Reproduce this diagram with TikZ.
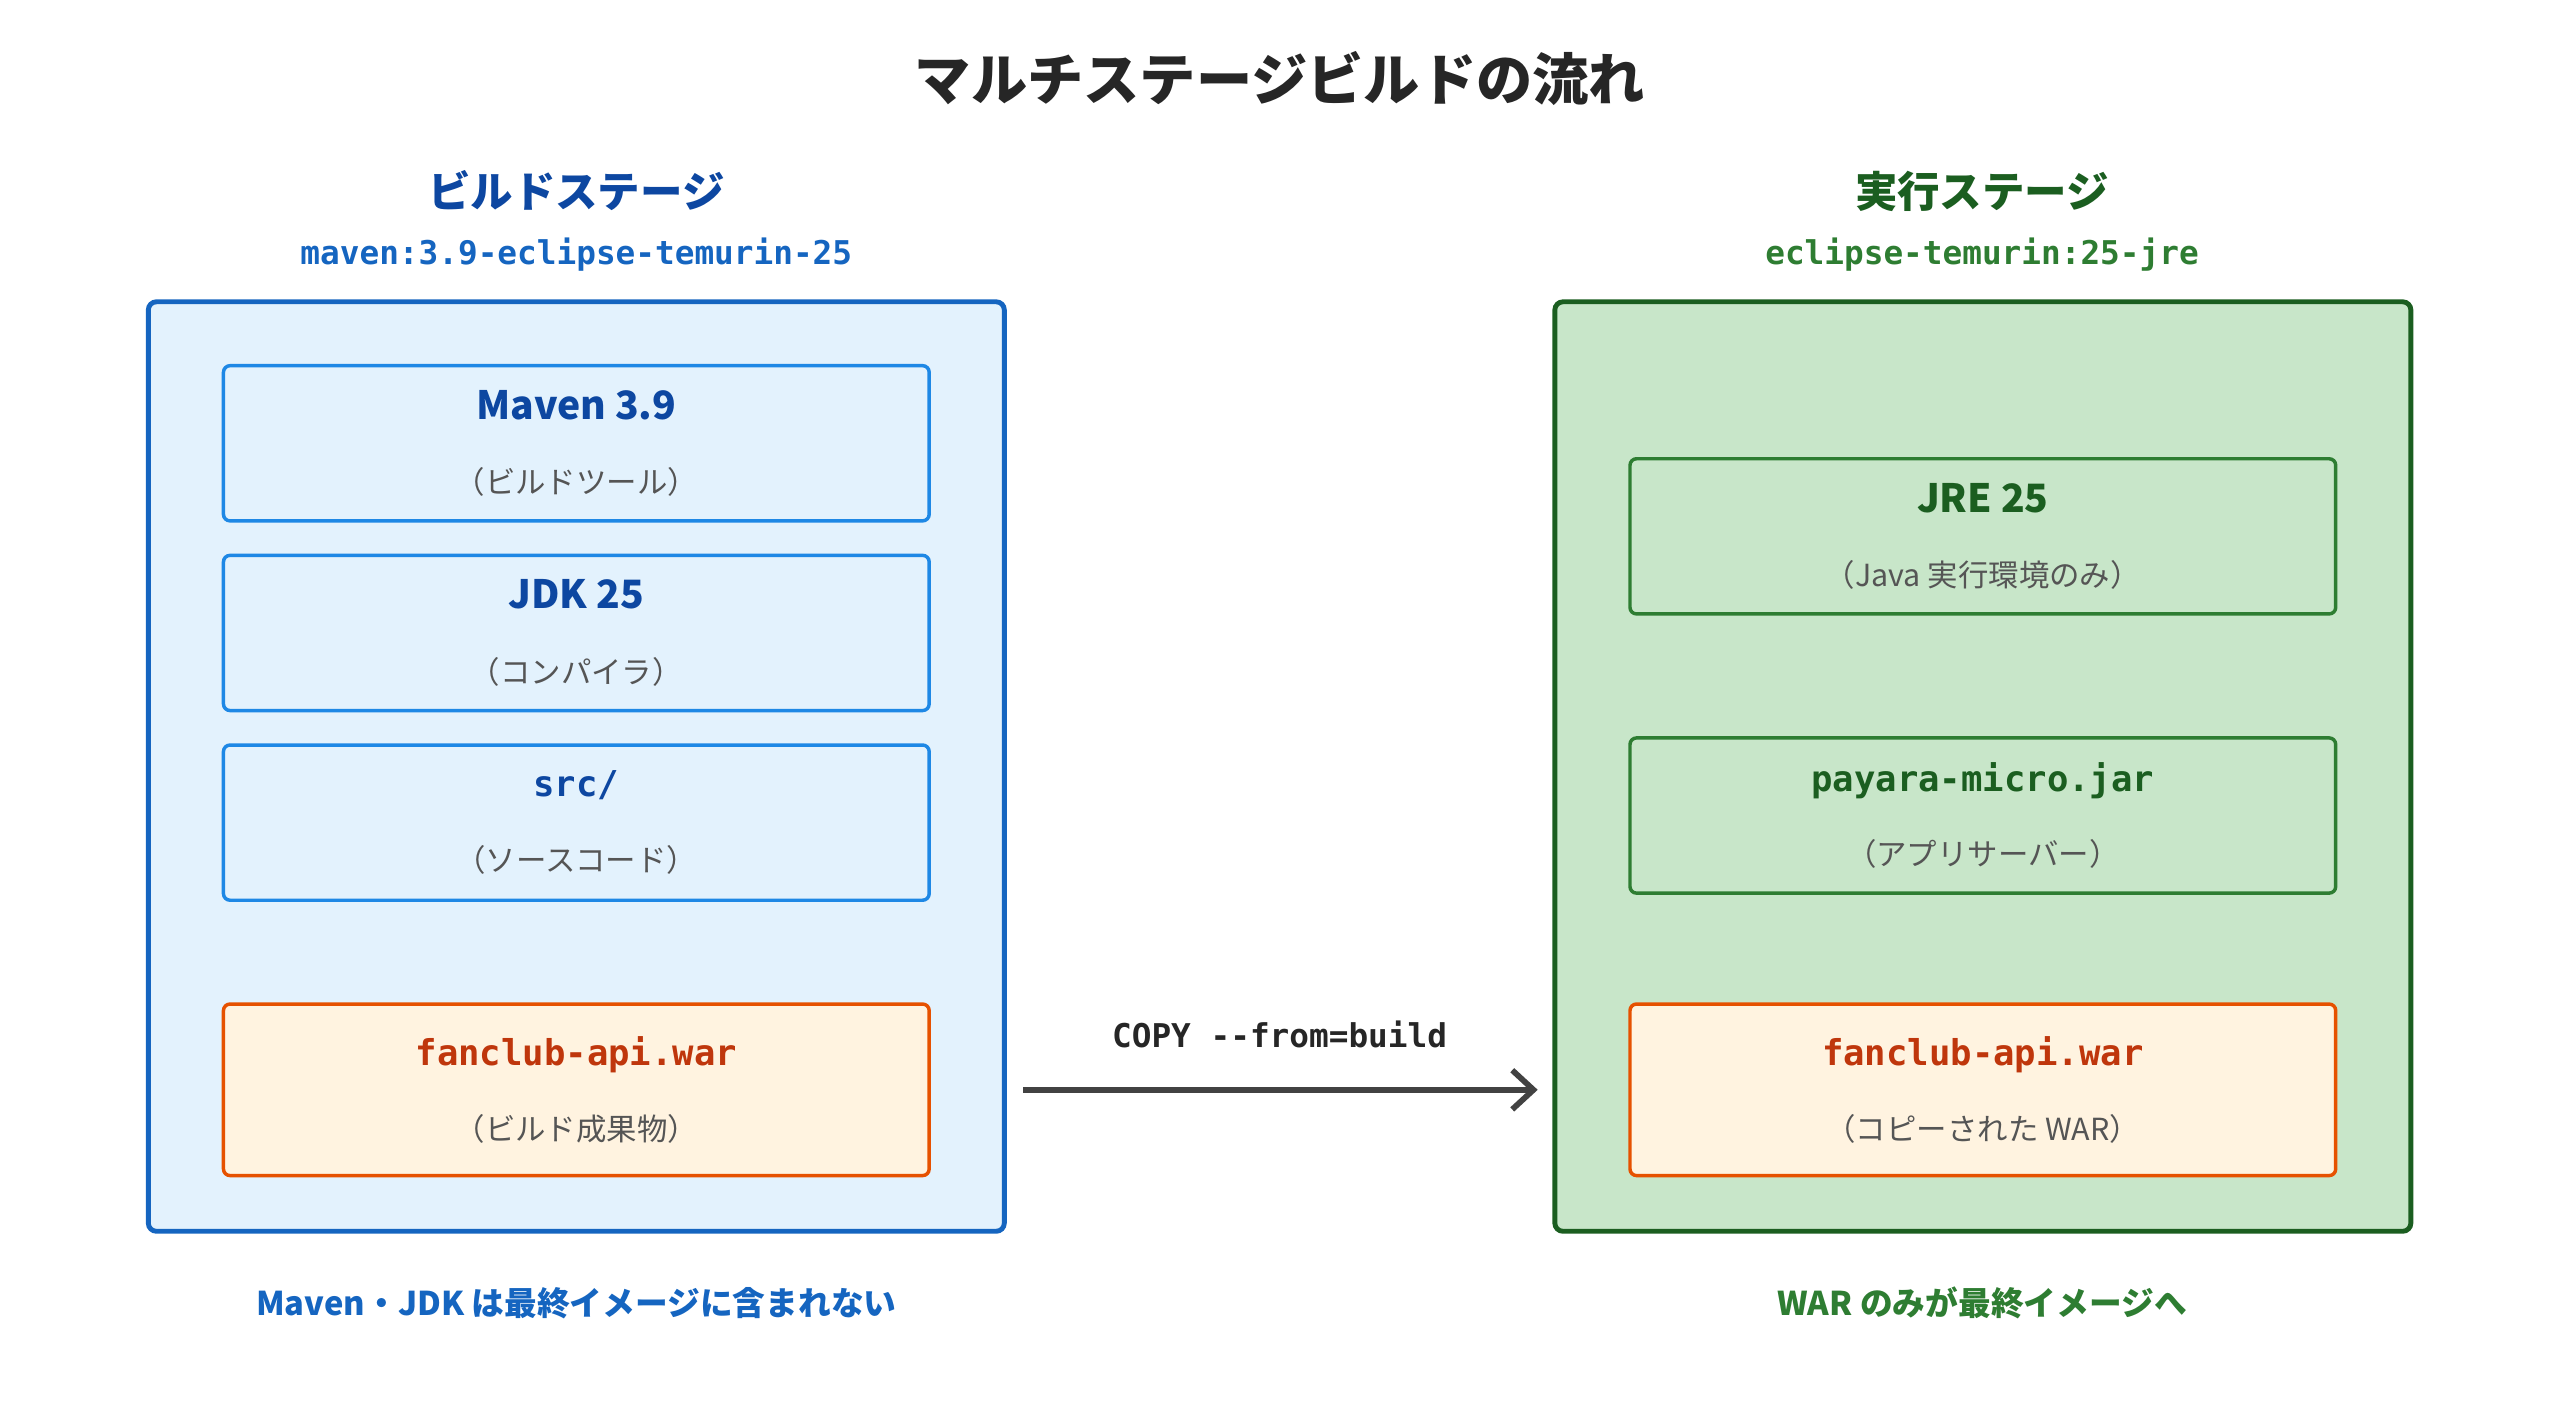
\documentclass[tikz,border=0pt]{standalone}
\usepackage{fontspec}
\setmainfont{Noto Sans CJK JP}
\setmonofont{DejaVu Sans Mono}
\usetikzlibrary{positioning,arrows.meta}
\definecolor{bluefill}{HTML}{E3F2FD}
\definecolor{bluedraw}{HTML}{1565C0}
\definecolor{blueline}{HTML}{1E88E5}
\definecolor{bluetext}{HTML}{0D47A1}
\definecolor{greenfill}{HTML}{C8E6C9}
\definecolor{greendraw}{HTML}{1B5E20}
\definecolor{greenline}{HTML}{2E7D32}
\definecolor{warfill}{HTML}{FFF3E0}
\definecolor{wardraw}{HTML}{E65100}
\definecolor{wartext}{HTML}{BF360C}
\definecolor{subgray}{HTML}{555555}
\definecolor{arrowgray}{HTML}{424242}
\newcommand{\boxtitle}[1]{{\fontsize{6.8pt}{8pt}\selectfont\bfseries #1}}
\newcommand{\monotitle}[1]{{\fontsize{6.2pt}{8pt}\selectfont\ttfamily\bfseries #1}}
\newcommand{\boxsub}[1]{{\fontsize{5.3pt}{7pt}\selectfont\color{subgray}#1}}
\begin{document}
\begin{tikzpicture}[x=0.01cm,y=-0.01cm,
  stage/.style = {draw, line width=0.85pt, rounded corners=0.05cm,
    minimum width=5.24cm, minimum height=5.69cm},
  part/.style = {draw, line width=0.6pt, rounded corners=0.04cm, align=center,
    minimum width=4.32cm, minimum height=0.95cm, inner sep=0pt},
  build part/.style = {part, fill=bluefill, draw=blueline, text=bluetext},
  run part/.style = {part, fill=greenfill, draw=greenline, text=greendraw},
  war part/.style = {part, fill=warfill, draw=wardraw, text=wartext, minimum height=1.05cm},
  heading/.style = {font=\fontsize{7.4pt}{9pt}\selectfont\bfseries},
  image/.style = {font=\fontsize{5.7pt}{7pt}\selectfont\ttfamily\bfseries},
  note/.style = {font=\fontsize{5.7pt}{7pt}\selectfont\bfseries}]
  \useasboundingbox (0,0) rectangle (1568,866);
  \node[font=\fontsize{9.8pt}{12pt}\selectfont\bfseries, text=black!85] (title) at (784,48) {マルチステージビルドの流れ};
  % build stage
  \node[heading, text=bluetext] (buildhead) at (353,117) {ビルドステージ};
  \node[image, text=bluedraw] (buildimg) at (353,156) {maven:3.9-eclipse-temurin-25};
  \node[stage, fill=bluefill, draw=bluedraw] (build) at (353,469.5) {};
  \node[build part] (maven) at (353,271.5) {\boxtitle{Maven 3.9}\\[1pt]\boxsub{（ビルドツール）}};
  \node[build part, below=0.19cm of maven] (jdk) {\boxtitle{JDK 25}\\[1pt]\boxsub{（コンパイラ）}};
  \node[build part, below=0.19cm of jdk] (src) {\monotitle{src/}\\[1pt]\boxsub{（ソースコード）}};
  \node[war part] (buildwar) at (353,667.5) {\monotitle{fanclub-api.war}\\[1pt]\boxsub{（ビルド成果物）}};
  \node[note, text=bluedraw] (buildnote) at (353,798) {Maven・JDK は最終イメージに含まれない};
  % run stage
  \node[heading, text=greendraw] (runhead) at (1214,117) {実行ステージ};
  \node[image, text=greenline] (runimg) at (1214,156) {eclipse-temurin:25-jre};
  \node[stage, fill=greenfill, draw=greendraw] (run) at (1214.5,469.5) {};
  \node[run part] (jre) at (1214.5,328.5) {\boxtitle{JRE 25}\\[1pt]\boxsub{（Java 実行環境のみ）}};
  \node[run part] (payara) at (1214.5,499.5) {\monotitle{payara-micro.jar}\\[1pt]\boxsub{（アプリサーバー）}};
  \node[war part] (runwar) at (1214.5,667.5) {\monotitle{fanclub-api.war}\\[1pt]\boxsub{（コピーされた WAR）}};
  \node[note, text=greenline] (runnote) at (1214,798) {WAR のみが最終イメージへ};
  % copy arrow
  \draw[arrowgray, line width=1pt, shorten <=0.1cm, shorten >=0.09cm,
    -{Straight Barb[length=0.13cm,width=0.24cm]}]
    (buildwar.east -| build.east) -- node[above=0.12cm, image, text=black!85] (copy) {COPY --from=build} (runwar.west -| run.west);
\end{tikzpicture}
\end{document}
